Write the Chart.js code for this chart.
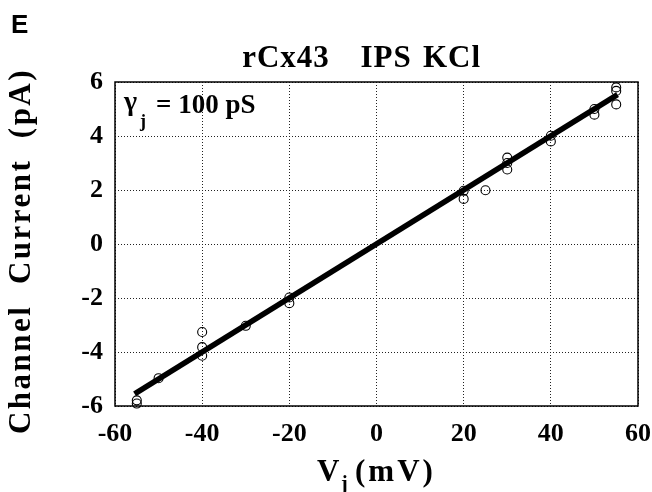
<!DOCTYPE html>
<html>
<head>
<meta charset="utf-8">
<script src="https://cdn.jsdelivr.net/npm/chart.js@4/dist/chart.umd.min.js"></script>
<style>
  html, body { margin: 0; padding: 0; background: #fff; }
  #wrap { width: 652px; height: 492px; position: relative; }
</style>
</head>
<body>
<div id="wrap"><canvas id="c" width="652" height="492"></canvas></div>
<script>
// ---- data ----
const vj      = [-55, -55, -50, -40, -40, -40, -30, -20, -20, 20, 20, 25, 30, 30, 30, 40, 40, 50, 50, 55, 55, 55];
const current = [-5.79, -5.91, -4.97, -3.26, -3.82, -4.14, -3.03, -1.98, -2.19, 1.97, 1.67, 1.99, 3.2, 3.0, 2.76, 4.01, 3.8, 5.0, 4.79, 5.8, 5.67, 5.17];
const fitX = [-55.5, 55.3];
const fitY = [-5.55, 5.53];
const xTicks = [-60, -40, -20, 0, 20, 40, 60];
const yTicks = [-6, -4, -2, 0, 2, 4, 6];
const titleWords = ["rCx43", "IPS", "KCl"];
const yTitle = "Channel  Current  (pA)";
const xTitleMain = "V", xTitleSub = "j", xTitleUnit = "(mV)";
const gammaLabel = "= 100 pS";

const SERIF = '"Liberation Serif", "Times New Roman", serif';
const SANS = '"Liberation Sans", Arial, sans-serif';

const points = vj.map((x, i) => ({ x: x, y: current[i] }));
const fitLine = fitX.map((x, i) => ({ x: x, y: fitY[i] }));

const decor = {
  id: 'decor',
  afterDraw(chart) {
    const ctx = chart.ctx;
    const a = chart.chartArea;
    ctx.save();
    ctx.strokeStyle = '#000';
    ctx.lineWidth = 1.5;
    ctx.strokeRect(a.left, a.top, a.right - a.left, a.bottom - a.top);
    ctx.fillStyle = '#000';
    ctx.font = 'bold 26px ' + SANS;
    ctx.textAlign = 'left';
    ctx.textBaseline = 'alphabetic';
    ctx.fillText('E', 11, 33);
    ctx.font = 'bold 31px ' + SERIF;
    ctx.letterSpacing = '1px';
    ctx.textAlign = 'center';
    const centers = [286, 386, 452];
    titleWords.forEach((w, i) => ctx.fillText(w, centers[i], 67));
    ctx.save();
    ctx.translate(30, 251);
    ctx.rotate(-Math.PI / 2);
    ctx.font = 'bold 31px ' + SERIF;
    ctx.letterSpacing = '2.5px';
    ctx.textAlign = 'center';
    ctx.fillText(yTitle, 0, 0);
    ctx.restore();
    ctx.letterSpacing = '1px';
    ctx.textAlign = 'left';
    ctx.font = 'bold 31px ' + SERIF;
    ctx.fillText(xTitleMain, 317, 481);
    ctx.font = 'bold 20px ' + SERIF;
    ctx.fillText(xTitleSub, 341, 490);
    ctx.font = 'bold 31px ' + SERIF;
    ctx.letterSpacing = '3px';
    ctx.fillText(xTitleUnit, 355, 481);
    ctx.letterSpacing = '0px';
    ctx.font = 'bold 28px ' + SERIF;
    ctx.fillText('\u03B3', 124, 110);
    ctx.font = 'bold 18px ' + SERIF;
    ctx.fillText('j', 140, 127);
    ctx.font = 'bold 27px ' + SERIF;
    ctx.fillText(gammaLabel, 156, 113);
    ctx.restore();
  }
};

new Chart(document.getElementById('c'), {
  type: 'scatter',
  data: {
    datasets: [
      {
        label: 'data',
        data: points,
        pointStyle: 'circle',
        pointRadius: 4.5,
        pointBorderWidth: 1.1,
        pointBorderColor: '#000',
        pointBackgroundColor: 'rgba(0,0,0,0)',
        showLine: false,
        clip: false
      },
      {
        label: 'fit',
        data: fitLine,
        showLine: true,
        borderColor: '#000',
        borderWidth: 5.5,
        pointRadius: 0,
        borderCapStyle: 'butt',
        clip: false
      }
    ]
  },
  options: {
    responsive: false,
    animation: false,
    devicePixelRatio: 1,
    layout: { padding: { left: 75, right: 14, top: 82, bottom: 0 } },
    plugins: { legend: { display: false }, tooltip: { enabled: false }, title: { display: false } },
    scales: {
      x: {
        type: 'linear', min: -60, max: 60,
        afterFit(s) { s.height = 86; s.paddingLeft = 0; s.paddingRight = 0; },
        afterBuildTicks(s) { s.ticks = xTicks.map(v => ({ value: v })); },
        grid: { color: '#222', lineWidth: 1, drawTicks: false },
        border: { display: false, dash: [1, 2] },
        ticks: { color: '#000', padding: 13, maxRotation: 0, font: { family: SERIF, size: 26, weight: 'bold' } }
      },
      y: {
        type: 'linear', min: -6, max: 6,
        afterFit(s) { s.width = 40; s.paddingTop = 0; s.paddingBottom = 0; },
        afterBuildTicks(s) { s.ticks = yTicks.map(v => ({ value: v })); },
        grid: { color: '#222', lineWidth: 1, drawTicks: false },
        border: { display: false, dash: [1, 2] },
        ticks: { color: '#000', padding: 12, font: { family: SERIF, size: 26, weight: 'bold' } }
      }
    }
  },
  plugins: [decor]
});
</script>
</body>
</html>
